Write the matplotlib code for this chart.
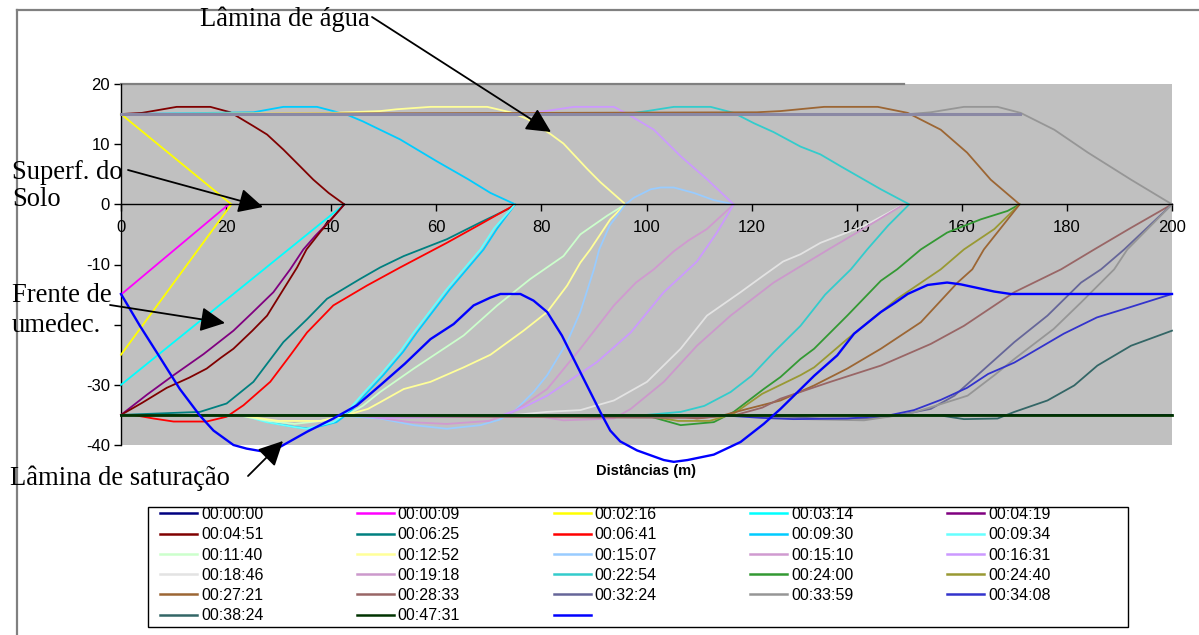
import matplotlib
matplotlib.use('Agg')
import matplotlib.pyplot as plt
from matplotlib.lines import Line2D
from matplotlib.patches import Rectangle, FancyArrowPatch

# ---------------- data ----------------
labels = ['00:00:00', '00:00:09', '00:02:16', '00:03:14', '00:04:19',
          '00:04:51', '00:06:25', '00:06:41', '00:09:30', '00:09:34',
          '00:11:40', '00:12:52', '00:15:07', '00:15:10', '00:16:31',
          '00:18:46', '00:19:18', '00:22:54', '00:24:00', '00:24:40',
          '00:27:21', '00:28:33', '00:32:24', '00:33:59', '00:34:08',
          '00:38:24', '00:47:31', '']

colors = ['#000080', '#FF00FF', '#FFFF00', '#00FFFF', '#800080',
          '#800000', '#008080', '#FF0000', '#00CCFF', '#66FFFF',
          '#CCFFCC', '#FFFF99', '#99CCFF', '#D09AD0', '#CC99FF',
          '#E3E3E3', '#CC99CC', '#33CCCC', '#339933', '#999933',
          '#9C6634', '#996666', '#666699', '#969696', '#3333CC',
          '#336666', '#003300', '#0000FF']

s00_x = [0, 200]
s00_y = [-35, -35]
s01_x = [0, 20.5]
s01_y = [-15, 0]
s02_x = [0, 21, 0]
s02_y = [15, 0, -25]
s03_x = [0, 42.5]
s03_y = [-30, 0]
s04_x = [0, 5, 10, 15.7, 21.4, 25, 29, 32.2, 34.7, 37, 40, 42.5]
s04_y = [-35, -31.6, -28.4, -24.9, -21, -18, -14.6, -10.8, -7.5, -5.2, -2.5, 0]
s05_x = [0, 4, 10.6, 17, 20.8, 25.2, 27.8, 30.9, 34.1, 36.6, 39.5, 42.5,
         40.5, 38, 35.3, 33.5, 31, 27.8, 25, 21.4, 19, 16.3, 13, 8.7, 4, 0]
s05_y = [15, 15.2, 16.2, 16.2, 15.3, 13, 11.6, 9.1, 6.3, 4.1, 1.9, 0,
         -2, -4.5, -7.5, -10.5, -14, -18.5, -21, -24, -25.5, -27.3, -28.8, -30.5, -33, -35]
s06_x = [0, 15, 20.1, 25.2, 30.9, 35.4, 39.2, 45.5, 49.3, 53.8, 62, 68.4, 74.1, 75]
s06_y = [-35, -34.5, -33.1, -29.5, -22.9, -19.1, -15.7, -12.4, -10.5, -8.6, -5.8, -3, -0.6, 0]
s07_x = [0, 2.3, 6.2, 10, 16.3, 20.1, 23.3, 28.4, 32.2, 35.4, 40.4, 46.8, 53.1, 62, 68.4, 74.1, 75]
s07_y = [-35, -35, -35.6, -36.1, -36.1, -35.3, -33.4, -29.5, -25.1, -21.3, -16.8, -13.5, -10.5, -6.4, -3.3, -0.5, 0]
s08_x = [0, 25.2, 30.9, 37.3, 43, 46, 49.3, 53.1, 60, 66, 70.3, 75,
         71.6, 69, 65.8, 62.6, 56.3, 53.7, 49.9, 46.6, 43.6, 41, 36, 33, 28, 24, 0]
s08_y = [15, 15.3, 16.2, 16.2, 14.9, 13.8, 12.4, 10.8, 7.2, 4.2, 1.9, 0,
         -4, -7.5, -10.8, -14.1, -21.3, -24.5, -28.4, -31.5, -34.5, -36.2, -37.3, -37, -36.2, -35.1, -35]
s09_x = [0, 23.3, 27.7, 32.8, 35.3, 40.4, 43, 46, 49.3, 53.1, 55.7, 62, 65.2, 68.4, 71, 75]
s09_y = [-35, -35.1, -36.2, -37, -37.3, -36.2, -34.5, -31.5, -28.4, -24.5, -21.3, -14.1, -10.8, -7.5, -4, 0]
s10_x = [0, 22, 28, 33, 38, 43, 46, 49.3, 55.7, 65.2, 71.6, 77.9, 84.2, 87.4, 92.5, 96]
s10_y = [-35, -35, -36, -36.5, -36, -35, -33.5, -31.2, -27.3, -21.8, -16.8, -12.4, -8.6, -5, -1.9, 0]
s11_x = [0, 40, 49.3, 52.5, 58.9, 69.7, 74.1, 77.3, 81.7, 84.2, 88.7, 91.2, 96,
         93.1, 89.3, 87.4, 84.9, 81.1, 76.6, 70.3, 65.2, 58.9, 53.8, 49.3, 47, 43, 38, 30, 22, 0]
s11_y = [15, 15.2, 15.5, 15.8, 16.2, 16.2, 15.3, 14.2, 11.7, 10.1, 5.9, 3.7, 0,
         -2.5, -7.5, -9.7, -13.5, -17.9, -21, -25, -27.1, -29.5, -30.7, -32.9, -34, -35, -36, -36, -35, -35]
s12_x = [0, 40, 49.3, 55.7, 62, 68.4, 72, 74.7, 78.5, 81.1, 84.9, 87.4, 90, 91, 93, 96,
         97.6, 100.8, 102.7, 105.2, 109, 112.8, 116.6]
s12_y = [-35, -35, -35.6, -36.7, -37.3, -36.7, -35.8, -34.5, -31.2, -28.4, -22.9, -17.9, -10.8, -7.5, -3.5, 0,
         1.1, 2.5, 2.8, 2.8, 1.9, 0.7, 0]
s13_x = [0, 45, 50, 55, 62, 70, 74.7, 81.1, 87.4, 93.8, 98, 101.4, 105.2, 108, 111.5, 116.6]
s13_y = [-35, -35, -35.6, -36.2, -36.5, -36, -34.5, -30.7, -24, -16.8, -13, -10.8, -7.8, -6, -4.1, 0]
s14_x = [0, 75, 79.2, 86.2, 93.8, 96.6, 101.4, 106.5, 111.6, 116.6,
         113.4, 109.6, 103.3, 97, 90.6, 81.1, 76, 72, 50, 45, 0]
s14_y = [15, 15, 15.3, 16.2, 16.2, 14.9, 12.4, 8, 4.1, 0,
         -4.7, -9.5, -14.6, -21.3, -26.2, -31.8, -34, -35.2, -35.5, -35.2, -35]
s15_x = [0, 75, 81, 87.4, 93.8, 100.1, 106.5, 111.5, 117.9, 122, 126, 129.3, 133.1, 141.4, 149]
s15_y = [-35, -35, -34.5, -34.2, -32.6, -29.5, -24, -18.5, -14.6, -12, -9.5, -8.3, -6.4, -3.6, 0]
s16_x = [0, 80, 84.2, 93.8, 97, 103.3, 109.6, 116, 124.2, 129.3, 135, 141.4, 149]
s16_y = [-35, -35.3, -35.9, -35.6, -34, -29.5, -23.5, -18.5, -13, -10.3, -7.3, -4, 0]
s17_x = [0, 96, 100.1, 105.2, 112.2, 116.6, 120.4, 124.2, 129.3, 133.1, 137, 144.6, 150,
         146, 142, 138.9, 134, 129.3, 124.2, 120, 116, 111, 106.5, 100, 0]
s17_y = [15, 15, 15.5, 16.2, 16.2, 15.2, 13.5, 12, 9.6, 8.3, 6.3, 2.5, 0,
         -3.5, -7.5, -10.8, -15, -20.2, -24.6, -28.5, -31.2, -33.5, -34.5, -35, -35]
s18_x = [0, 100, 106.5, 112.8, 116.6, 122.3, 125.5, 129.3, 131.9, 138.2, 144.6, 147.7, 152.2, 157.2, 163.6, 168.7, 171]
s18_y = [-35, -35.1, -36.7, -36.2, -34.5, -30.7, -28.7, -25.7, -24, -18.5, -12.7, -10.8, -7.5, -4.7, -2.5, -1.1, 0]
s19_x = [0, 100, 106, 112, 116.6, 122, 129.3, 131.9, 138.2, 147.7, 156, 160.4, 166.2, 171]
s19_y = [-35, -35.1, -36, -36, -34.8, -31.5, -28.4, -27.1, -22.4, -15.7, -10.8, -7.5, -4.1, 0]
s20_x = [0, 121, 125.5, 133.8, 144, 149.7, 156, 161, 165.5, 171,
         164.2, 162, 159.2, 152.2, 144.6, 138.2, 131.9, 125.5, 119.2, 114, 109.6, 104, 0]
s20_y = [15, 15.3, 15.5, 16.2, 16.2, 15.2, 12.4, 8.6, 4.1, 0,
         -7.5, -10.8, -13, -19.6, -24, -27.3, -30.1, -32.6, -34, -35.2, -35.6, -35, -35]
s21_x = [0, 110, 117, 122, 125.5, 135, 144.6, 154.1, 160.4, 170, 178.9, 185.2, 192, 200]
s21_y = [-35, -35.5, -35, -33.8, -32.3, -29.5, -26.8, -23.2, -20.2, -14.6, -10.8, -7.5, -4, 0]
s22_x = [0, 120, 125.5, 133.1, 142, 147.7, 154.1, 158.6, 163.6, 170, 176.3, 182.7, 186.5, 190.9, 200]
s22_y = [-35, -35.2, -35.3, -35.6, -35.6, -35.1, -34, -31.8, -27.9, -22.9, -18.5, -13, -10.8, -7.5, 0]
s23_x = [0, 150, 154.1, 160.4, 166.8, 171.2, 177.6, 184, 192.2, 200,
         191.5, 189, 182.7, 177.5, 170, 166.2, 161.1, 155.3, 150, 141.4, 130, 120, 0]
s23_y = [15, 15, 15.3, 16.2, 16.2, 15.2, 12.4, 8.6, 4.1, 0,
         -7.5, -10.8, -16.3, -20.7, -25.7, -28.4, -31.8, -33.4, -34.8, -35.9, -35.7, -35.2, -35]
s24_x = [0, 115, 122, 128, 138.2, 146, 150.9, 156, 161, 165, 170, 179.4, 185.7, 192, 200]
s24_y = [-35, -35.1, -35.5, -35.7, -35.6, -35.1, -34.2, -32.5, -30.5, -28.2, -26.3, -21.5, -18.8, -17.1, -14.9]
s25_x = [0, 150, 156, 160.4, 166.8, 170, 176.3, 181.4, 185.8, 192.2, 200]
s25_y = [-35, -35, -35.1, -35.7, -35.6, -34.5, -32.6, -30.1, -26.8, -23.5, -21]
s26_x = [0, 200]
s26_y = [-35, -35]
s27_x = [0, 3.6, 6.8, 11.2, 15, 17.6, 21.4, 23.9, 26.5, 30.3, 35.4, 40.4, 44.9, 49.3, 54, 58.9,
         63.3, 67.1, 70.3, 72.2, 76, 78.5, 81.1, 83.9, 87.4, 91.2, 93.1, 95, 98.2, 103.3, 105.2,
         107.8, 112.8, 117.9, 122.3, 125.5, 131.9, 136.3, 139.5, 144.6, 147.4, 149.7, 153.5,
         157.2, 159.8, 166.2, 169.3, 200]
s27_y = [-14.9, -20.2, -24.6, -30.7, -35.1, -37.6, -40, -40.6, -41, -40.3, -37.8, -35.6, -33.4, -30.1, -26.5, -22.4,
         -19.9, -16.8, -15.5, -14.9, -14.9, -16, -17.9, -21.8, -27.9, -34.5, -37.6, -39.4, -40.9, -42.5, -42.8,
         -42.5, -41.6, -39.5, -36.5, -34, -28.5, -25.1, -21.5, -17.9, -16.3, -14.9, -13.4,
         -13, -13.3, -14.5, -14.9, -14.9]

series_x = [s00_x, s01_x, s02_x, s03_x, s04_x, s05_x, s06_x, s07_x, s08_x, s09_x,
            s10_x, s11_x, s12_x, s13_x, s14_x, s15_x, s16_x, s17_x, s18_x, s19_x,
            s20_x, s21_x, s22_x, s23_x, s24_x, s25_x, s26_x, s27_x]
series_y = [s00_y, s01_y, s02_y, s03_y, s04_y, s05_y, s06_y, s07_y, s08_y, s09_y,
            s10_y, s11_y, s12_y, s13_y, s14_y, s15_y, s16_y, s17_y, s18_y, s19_y,
            s20_y, s21_y, s22_y, s23_y, s24_y, s25_y, s26_y, s27_y]

surface_x = [0, 171]
surface_y = [15, 15]
top_x = [0, 149]
top_y = [20, 20]

x_ticks = [0, 20, 40, 60, 80, 100, 120, 140, 160, 180, 200]
y_ticks = [-40, -30, -20, -10, 0, 10, 20]

# ---------------- figure ----------------
W, H = 1199, 635
fig = plt.figure(figsize=(W / 100, H / 100), dpi=100)


def fx(p):
    return p / W


def fy(p):
    return 1 - p / H


ax = fig.add_axes([fx(121), fy(445), fx(1172) - fx(121), fy(84) - fy(445)])
ax.set_facecolor('#C0C0C0')
ax.set_xlim(0, 200)
ax.set_ylim(-40, 20)

ax.plot(top_x, top_y, color='#808080', lw=1.6, clip_on=False, zorder=2)

for i, (xs, ys) in enumerate(zip(series_x, series_y)):
    lw = 1.3
    z = 3
    if i == 26:
        lw = 2.0
        z = 4
    if i == 27:
        lw = 1.7
        z = 6
    ax.plot(xs, ys, color=colors[i], lw=lw, clip_on=False, zorder=z,
            solid_joinstyle='round')

ax.plot(surface_x, surface_y, color='#8A88A4', lw=2.2, zorder=5, clip_on=False)

for s in ['top', 'right']:
    ax.spines[s].set_visible(False)
ax.spines['bottom'].set_position(('data', 0))
ax.spines['bottom'].set_color('black')
ax.spines['left'].set_color('black')
ax.spines['bottom'].set_linewidth(1.0)
ax.spines['left'].set_linewidth(1.0)
ax.spines['bottom'].set_zorder(4.5)

ax.set_xticks(x_ticks)
ax.set_yticks(y_ticks)
ax.set_xticklabels([str(v) for v in x_ticks])
ax.set_yticklabels([str(v) for v in y_ticks])
ax.tick_params(axis='x', direction='out', length=5, pad=6, labelsize=12, width=1)
ax.tick_params(axis='y', direction='out', length=5, pad=3, labelsize=12, width=1)
for t in ax.get_xticklabels() + ax.get_yticklabels():
    t.set_fontfamily('Liberation Sans')
for t in ax.get_yticklabels():
    if t.get_text() == '-20':
        t.set_visible(False)

ax.set_xlabel('Distâncias (m)', fontfamily='Liberation Sans', fontsize=10.5,
              fontweight='bold')
ax.xaxis.set_label_coords(0.5, (fy(471) - fy(445)) / (fy(84) - fy(445)))
ax.xaxis.label.set_va('center')

# chart border (top and left)
fig.add_artist(Line2D([fx(17), 1], [fy(10), fy(10)], color='#808080', lw=1.6))
fig.add_artist(Line2D([fx(17), fx(17)], [fy(10), 0], color='#808080', lw=1.6))

# annotations
serif = 'Liberation Serif'
fs = 19.2
fig.text(fx(200), fy(19), 'Lâmina de água', family=serif, size=fs, ha='left', va='center')
fig.text(fx(12), fy(172), 'Superf. do', family=serif, size=fs, ha='left', va='center')
fig.text(fx(12), fy(200), 'Solo', family=serif, size=fs, ha='left', va='center')
fig.text(fx(12), fy(295), 'Frente de', family=serif, size=fs, ha='left', va='center')
fig.text(fx(12), fy(325), 'umedec.', family=serif, size=fs, ha='left', va='center')
fig.text(fx(10), fy(478), 'Lâmina de saturação', family=serif, size=fs, ha='left', va='center')

arrows = [((372, 17), (551, 132)),
          ((128, 170), (263, 207)),
          ((110, 305), (225, 323)),
          ((248, 476), (283, 441))]
for (x0, y0), (x1, y1) in arrows:
    fig.add_artist(FancyArrowPatch((fx(x0), fy(y0)), (fx(x1), fy(y1)),
                                   transform=fig.transFigure,
                                   arrowstyle='-|>,head_length=0.6,head_width=0.3',
                                   mutation_scale=25, color='black', lw=1.3,
                                   shrinkA=0, shrinkB=0, zorder=10))

# legend (row-major order as in original)
handles = [Line2D([], [], color=c, lw=1.8) for c in colors]
order = []
rows_per_col = [6, 6, 6, 5, 5]
for c in range(5):
    for r in range(rows_per_col[c]):
        order.append(r * 5 + c)
leg = fig.legend([handles[i] for i in order], [labels[i] for i in order], ncol=5,
                 loc='upper left', bbox_to_anchor=(fx(160), fy(507)),
                 frameon=False, borderaxespad=0, borderpad=0,
                 handlelength=2.32, handletextpad=0.25, columnspacing=5.84,
                 labelspacing=0.33, prop={'family': 'Liberation Sans', 'size': 11.5})
fig.add_artist(Rectangle((fx(148), fy(627)), fx(1128) - fx(148), fy(507) - fy(627),
                         transform=fig.transFigure, fill=False, edgecolor='black', lw=1.0))

fig.savefig('out.png', dpi=100)
